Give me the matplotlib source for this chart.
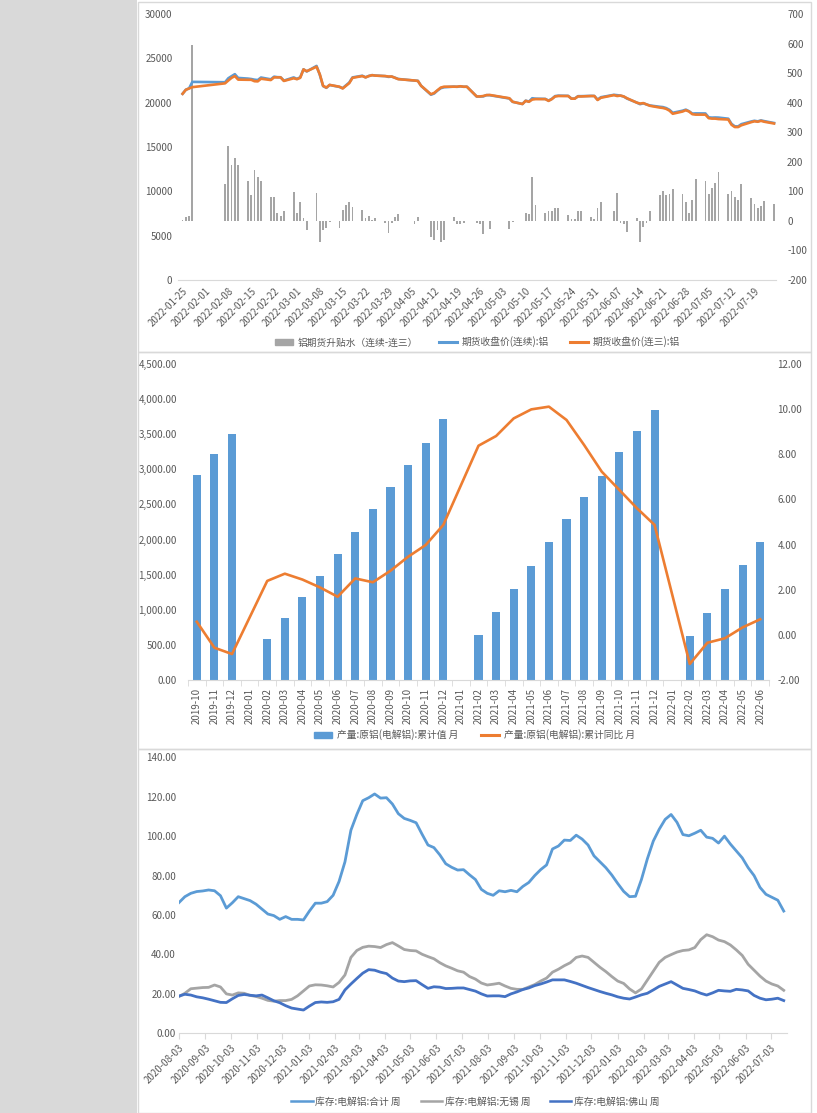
import numpy as np
import pandas as pd
import matplotlib
matplotlib.use('Agg')
import matplotlib.pyplot as plt
import matplotlib.dates as mdates
from matplotlib.patches import Rectangle, Patch
from matplotlib.lines import Line2D
from matplotlib.ticker import FuncFormatter, MultipleLocator, FixedLocator

plt.rcParams['font.family'] = ['Noto Sans CJK SC', 'DejaVu Sans']
plt.rcParams['axes.unicode_minus'] = False

# ---------------- data: panel 1 (daily, trading days) ----------------
holidays = pd.to_datetime(['2022-01-31', '2022-02-01', '2022-02-02', '2022-02-03', '2022-02-04',
                           '2022-04-04', '2022-04-05', '2022-05-02', '2022-05-03', '2022-05-04',
                           '2022-06-03'])
trade_days = pd.bdate_range('2022-01-25', '2022-07-25')
trade_days = trade_days[~trade_days.isin(holidays)]

# 期货收盘价(连三):铝
close_third = [21000, 21450, 21600, 21750,
               22180, 22500, 22800, 23000, 22600,
               22580, 22580, 22420, 22400, 22700,
               22550, 22850, 22850, 22850, 22450,
               22750, 22650, 22800, 23750, 23550,
               24050, 23200, 21900, 21700, 22000,
               21800, 21600, 21900, 22200, 22800,
               23000, 22850, 23000, 23100, 23050,
               23000, 22950, 22950, 22800, 22650,
               22500, 22450, 21900,
               20950, 21100, 21400, 21700, 21800,
               21800, 21800, 21850, 21800, 21800,
               20700, 20700, 20750, 20850, 20870,
               20500, 20100,
               19850, 20200, 20100, 20350, 20400,
               20400, 20200, 20400, 20700, 20750,
               20750, 20450, 20450, 20700, 20700,
               20750, 20750, 20300, 20550,
               20850, 20750, 20800, 20700, 20500,
               20000, 19900, 19950, 19800, 19650,
               19450, 19400, 19300, 19100, 18750,
               19000, 19150, 19000, 18700, 18650,
               18650, 18250, 18200, 18200, 18150,
               18100, 17500, 17250, 17250, 17450,
               17800, 17900, 17850, 17950, 17850,
               17650]
# 铝期货升贴水（连续-连三）
spread = [3, 12, 16, 595,
          124, 253, 189, 214, 189,
          135, 88, 172, 150, 136,
          82, 82, 26, 16, 35,
          98, 28, 65, 9, -31,
          93, -70, -31, -25, -3,
          -25, 37, 54, 65, 48,
          37, 9, 16, 2, 9,
          -6, -42, -6, 14, 23,
          -11, 14, 0,
          -53, -65, -31, -70, -65,
          14, -11, -11, -8, 0,
          -6, -10, -45, 0, -29,
          -29, -3,
          0, 28, 23, 149, 53,
          25, 34, 34, 42, 42,
          19, 8, 5, 33, 33,
          14, 8, 42, 64,
          34, 96, -7, -9, -37,
          11, -71, -20, -7, 34,
          87, 100, 87, 92, 107,
          92, 64, 28, 70, 141,
          134, 92, 112, 129, 166,
          92, 102, 81, 70, 126,
          76, 56, 42, 51, 68,
          56]
# 期货收盘价(连续):铝 = 连三 + 升贴水
close_cont = np.array(close_third) + np.array(spread)

# ---------------- data: panel 2 (monthly) ----------------
months = pd.period_range('2019-10', '2022-06', freq='M').strftime('%Y-%m').tolist()
nan = np.nan
cum_output = [2919, 3218, 3503,
              nan, 579, 878, 1187, 1481, 1794, 2108, 2430, 2753, 3062, 3375, 3712,
              nan, 641, 968, 1301, 1628, 1965, 2293, 2606, 2910, 3242, 3551, 3845,
              nan, 631, 954, 1301, 1638, 1965]
cum_yoy = [0.58, -0.57, -0.85,
           nan, 2.39, 2.71, 2.45, 2.10, 1.69, 2.50, 2.33, 2.84, 3.46, 3.98, 4.87,
           nan, 8.38, 8.81, 9.59, 9.99, 10.11, 9.52, 8.41, 7.23, 6.42, 5.61, 4.87,
           nan, -1.29, -0.35, -0.15, 0.33, 0.69]

# ---------------- data: panel 3 (weekly) ----------------
weeks = pd.date_range('2020-08-03', periods=103, freq='7D')
stock_total = [66.3, 69.3, 71.0, 71.9, 72.2, 72.7, 72.3, 69.8, 63.5, 66.2,
               69.3, 68.3, 67.3, 65.5, 63.0, 60.5, 59.7, 57.8, 59.2, 57.8,
               57.8, 57.5, 62.0, 66.0, 66.0, 66.8, 70.0, 77.0, 87.0, 103.0,
               111.0, 118.0, 119.5, 121.4, 119.3, 119.5, 116.3, 111.4, 109.0, 108.0,
               106.8, 101.0, 95.5, 94.2, 90.5, 86.0, 84.2, 82.8, 83.0, 80.4,
               78.0, 73.0, 71.0, 70.0, 72.3, 71.8, 72.5, 71.8, 74.5, 76.5,
               80.0, 83.0, 85.4, 93.5, 95.0, 98.0, 97.8, 100.5, 98.5, 95.5,
               90.0, 87.0, 84.0, 80.3, 76.0, 72.0, 69.3, 69.5, 78.0, 88.5,
               97.5, 103.5, 108.5, 111.0, 107.0, 100.8, 100.2, 101.5, 103.0, 99.5,
               98.9, 96.5, 100.0, 96.0, 92.5, 89.0, 84.0, 80.0, 74.0, 70.5,
               69.0, 67.5, 62.0]
stock_wuxi = [18.6, 20.3, 22.6, 22.9, 23.2, 23.3, 24.5, 23.5, 20.0, 19.4,
              20.5, 20.3, 19.2, 18.7, 17.8, 16.7, 16.3, 16.6, 16.6, 17.2,
              19.0, 21.5, 24.0, 24.6, 24.5, 24.1, 23.5, 25.8, 29.6, 38.5,
              42.0, 43.6, 44.2, 44.0, 43.5, 45.0, 46.0, 44.3, 42.5, 42.0,
              41.8, 40.1, 38.9, 37.8, 35.8, 34.2, 33.0, 31.7, 31.0, 28.8,
              27.5, 25.5, 24.5, 24.9, 25.4, 24.0, 22.8, 22.3, 22.3, 23.5,
              24.7, 26.5, 28.0, 31.0, 32.5, 34.3, 35.8, 38.5, 39.2, 38.5,
              36.0, 33.5, 31.3, 28.8, 26.5, 25.3, 22.5, 20.5, 22.5, 27.0,
              31.5, 36.0, 38.5, 39.9, 41.2, 42.0, 42.3, 43.5, 47.5, 50.0,
              49.0, 47.3, 46.5, 44.8, 42.3, 39.5, 35.0, 32.0, 29.0, 26.5,
              25.0, 24.0, 21.8]
stock_foshan = [18.9, 19.8, 19.4, 18.5, 18.0, 17.3, 16.5, 15.7, 15.6, 17.5,
                19.2, 19.7, 19.3, 19.0, 19.4, 18.0, 16.5, 15.5, 14.0, 12.8,
                12.3, 11.8, 13.8, 15.6, 15.9, 15.7, 16.0, 17.2, 22.0, 25.0,
                27.8, 30.5, 32.3, 32.0, 31.0, 30.3, 28.0, 26.5, 26.2, 26.6,
                26.7, 24.7, 22.8, 23.6, 23.4, 22.7, 22.8, 23.0, 23.0, 22.2,
                21.4, 20.0, 18.9, 19.0, 19.0, 18.6, 20.0, 21.0, 22.2, 23.0,
                24.2, 25.0, 26.0, 27.1, 27.1, 27.1, 26.3, 25.4, 24.3, 23.2,
                22.2, 21.2, 20.3, 19.5, 18.5, 17.8, 17.4, 18.4, 19.5, 20.3,
                22.0, 23.8, 25.0, 26.2, 24.5, 22.8, 22.2, 21.5, 20.3, 19.4,
                20.5, 21.8, 21.5, 21.3, 22.3, 22.0, 21.5, 19.2, 17.8, 17.0,
                17.3, 17.8, 16.6]

BLUE = '#5b9bd5'
ORANGE = '#ed7d31'
GRAY = '#a5a5a5'
DBLUE = '#4472c4'
TXT = '#595959'
AXL = '#d9d9d9'
FS = 7

W, H = 817, 1113
fig = plt.figure(figsize=(W / 100, H / 100), dpi=100)


def axes_px(x0, y0, x1, y1):
    return fig.add_axes([x0 / W, 1 - y1 / H, (x1 - x0) / W, (y1 - y0) / H])


def clean(ax):
    for s in ['top', 'left', 'right']:
        ax.spines[s].set_visible(False)
    ax.spines['bottom'].set_color(AXL)
    ax.tick_params(axis='y', length=0, labelsize=FS, labelcolor=TXT)
    ax.tick_params(axis='x', labelsize=FS, labelcolor=TXT, color=AXL)


# background: gray margin and panel frames
fig.add_artist(Rectangle((0, 0), 137 / W, 1, transform=fig.transFigure,
                         facecolor='#d9d9d9', edgecolor='none', zorder=0))
for top, bot in [(2, 352), (352, 749), (749, 1113)]:
    fig.add_artist(Rectangle((138 / W, 1 - bot / H), (811 - 138) / W, (bot - top) / H,
                             transform=fig.transFigure, facecolor='none',
                             edgecolor=AXL, lw=1, zorder=0))

# ---------------- panel 1 ----------------
ax1 = axes_px(178, 14, 776, 280)
ax1b = ax1.twinx()
ax1.set_zorder(ax1b.get_zorder() + 1)
ax1.patch.set_visible(False)

ax1b.bar(trade_days, spread, width=0.55, color=GRAY)
ax1.plot(trade_days, close_cont, color=BLUE, lw=1.9)
ax1.plot(trade_days, close_third, color=ORANGE, lw=1.9)

d0 = mdates.date2num(pd.Timestamp('2022-01-25'))
ax1.set_xlim(d0 - 1.4, d0 + 181.6)
ax1.set_ylim(0, 30000)
ax1.yaxis.set_major_locator(MultipleLocator(5000))
ax1b.set_ylim(-200, 700)
ax1b.yaxis.set_major_locator(MultipleLocator(100))
clean(ax1)
clean(ax1b)
ax1b.spines['bottom'].set_visible(False)
ax1.tick_params(axis='y', pad=4)
ax1b.tick_params(axis='y', pad=8)
wk = pd.date_range('2022-01-25', '2022-07-19', freq='7D')
ax1.set_xticks(wk)
ax1.set_xticklabels([d.strftime('%Y-%m-%d') for d in wk], rotation=45,
                    ha='right', va='top', rotation_mode='anchor')
ax1.tick_params(axis='x', length=0, pad=4)

fig.legend(handles=[Patch(color=GRAY), Line2D([], [], color=BLUE, lw=2.2),
                    Line2D([], [], color=ORANGE, lw=2.2)],
           labels=['铝期货升贴水（连续-连三）', '期货收盘价(连续):铝', '期货收盘价(连三):铝'],
           loc='center', bbox_to_anchor=(477.5 / W, 1 - 342 / H), ncol=3, frameon=False,
           fontsize=FS, labelcolor=TXT, handlelength=1.8, handleheight=0.5,
           handletextpad=0.5, columnspacing=2.2)

# ---------------- panel 2 ----------------
ax2 = axes_px(188, 364, 769, 680)
ax2b = ax2.twinx()
xi = np.arange(len(months))
ax2.bar(xi, cum_output, width=0.46, color=BLUE)
yoy = np.array(cum_yoy)
ok = ~np.isnan(yoy)
ax2b.plot(xi[ok], yoy[ok], color=ORANGE, lw=1.9)
ax2.set_xlim(-0.5, len(months) - 0.5)
ax2.set_ylim(0, 4500)
ax2.yaxis.set_major_locator(MultipleLocator(500))
ax2.yaxis.set_major_formatter(FuncFormatter(lambda v, p: f'{v:,.2f}'))
ax2b.set_ylim(-2, 12)
ax2b.yaxis.set_major_locator(MultipleLocator(2))
ax2b.yaxis.set_major_formatter(FuncFormatter(lambda v, p: f'{v:.2f}'))
clean(ax2)
clean(ax2b)
ax2b.spines['bottom'].set_visible(False)
ax2.tick_params(axis='y', pad=8)
ax2b.tick_params(axis='y', pad=6)
ax2.set_xticks(xi)
ax2.set_xticklabels(months, rotation=90, ha='center', va='top')
ax2.tick_params(axis='x', length=0, pad=6)
ax2.xaxis.set_minor_locator(FixedLocator(np.arange(-0.5, len(months), 1)))
ax2.tick_params(axis='x', which='minor', length=4, color=AXL)

fig.legend(handles=[Patch(color=BLUE), Line2D([], [], color=ORANGE, lw=2.2)],
           labels=['产量:原铝(电解铝):累计值 月', '产量:原铝(电解铝):累计同比 月'],
           loc='center', bbox_to_anchor=(474.5 / W, 1 - 735 / H), ncol=2, frameon=False,
           fontsize=FS, labelcolor=TXT, handlelength=1.8, handleheight=0.5,
           handletextpad=0.5, columnspacing=2.4)

# ---------------- panel 3 ----------------
ax3 = axes_px(178.7, 757.3, 786.7, 1033.3)
ax3.plot(weeks, stock_total, color=BLUE, lw=2.0)
ax3.plot(weeks, stock_wuxi, color=GRAY, lw=2.0)
ax3.plot(weeks, stock_foshan, color=DBLUE, lw=2.0)
w0 = mdates.date2num(pd.Timestamp('2020-08-03'))
ax3.set_xlim(w0 - 0.3, w0 + 717.5)
ax3.set_ylim(0, 140)
ax3.yaxis.set_major_locator(MultipleLocator(20))
ax3.yaxis.set_major_formatter(FuncFormatter(lambda v, p: f'{v:.2f}'))
clean(ax3)
ax3.tick_params(axis='y', pad=2)
mt = pd.date_range('2020-08-01', '2022-07-03', freq='MS') + pd.Timedelta(days=2)
ax3.set_xticks(mt)
ax3.set_xticklabels([d.strftime('%Y-%m-%d') for d in mt], rotation=45,
                    ha='right', va='top', rotation_mode='anchor')
ax3.tick_params(axis='x', length=4, pad=3)

fig.legend(handles=[Line2D([], [], color=BLUE, lw=1.8), Line2D([], [], color=GRAY, lw=1.8),
                    Line2D([], [], color=DBLUE, lw=1.8)],
           labels=['库存:电解铝:合计 周', '库存:电解铝:无锡 周', '库存:电解铝:佛山 周'],
           loc='center', bbox_to_anchor=(475.5 / W, 1 - 1101.5 / H), ncol=3, frameon=False,
           fontsize=FS, labelcolor=TXT, handlelength=2.2,
           handletextpad=0.3, columnspacing=2.0)

fig.savefig('out.png', dpi=100)
